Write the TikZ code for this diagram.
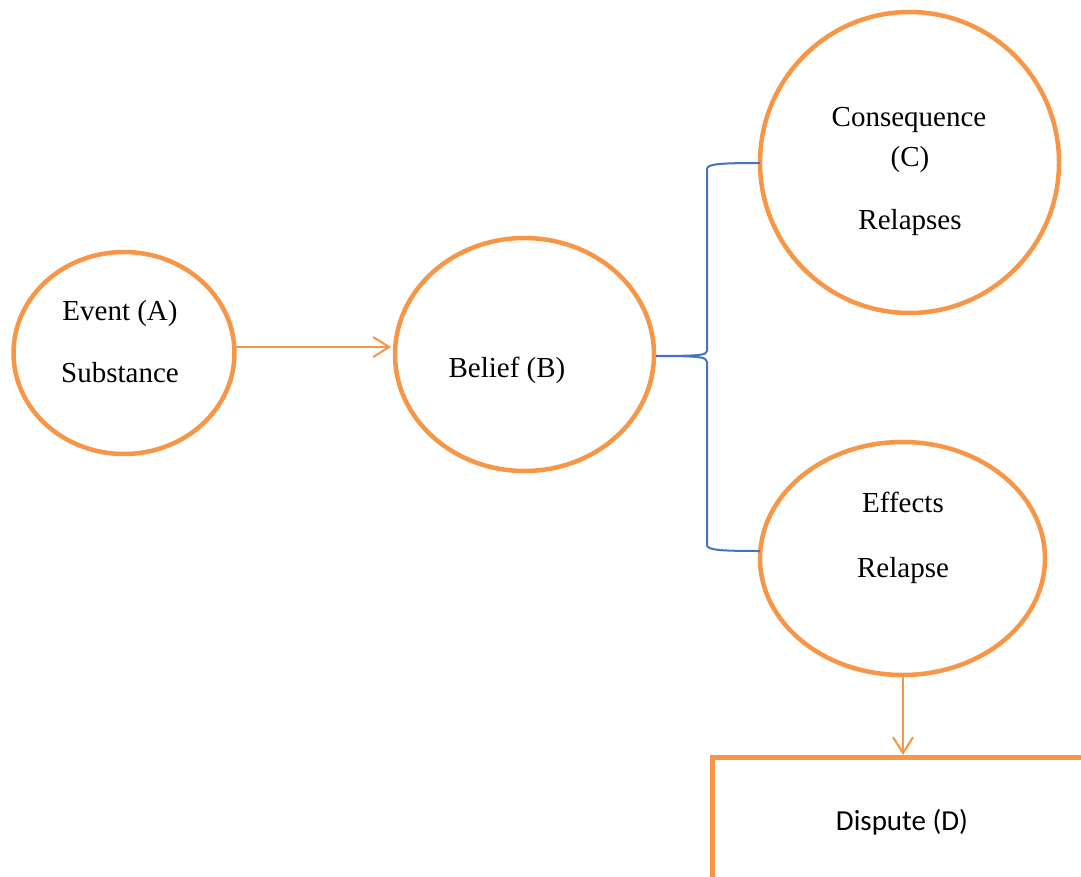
\documentclass[tikz,border=0pt]{standalone}
\usepackage{fontspec}
\setmainfont{Liberation Serif}
\newfontfamily\calibrifont{Carlito}
\usetikzlibrary{shapes.geometric,arrows.meta}
\definecolor{orng}{RGB}{247,150,70}
\definecolor{bblue}{RGB}{68,114,196}
\tikzset{
  circ/.style={ellipse, draw=orng, line width=4.5pt, inner sep=0pt, outer sep=0pt},
  lbl/.style={anchor=base, inner sep=0pt, font=\fontsize{29}{34}\selectfont},
  arr/.style={draw=orng, line width=2pt, -{Straight Barb[length=16pt,width=20pt]}},
  brace/.style={draw=bblue, line width=2pt},
}
\begin{document}
\begin{tikzpicture}[x=1pt,y=-1pt]
\useasboundingbox (0,0) rectangle (1081,877);
\begin{scope}
\clip (0,0) rectangle (1081,877);
% circles
\node[circ, minimum width=221pt, minimum height=202pt] (ev) at (124,353) {};
\node[circ, minimum width=259pt, minimum height=233pt] (be) at (524.5,354.5) {};
\node[circ, minimum width=299pt, minimum height=301pt] (co) at (909.5,162.5) {};
\node[circ, minimum width=285pt, minimum height=233pt] (ef) at (902.5,558.5) {};
% dispute box
\node[draw=orng, line width=5pt, rectangle, inner sep=0pt, outer sep=0pt, anchor=north west,
      minimum width=420pt, minimum height=160pt] (db) at (712.5,757.5) {};
% labels
\node[lbl] (t1) at (120,320) {Event (A)};
\node[lbl] (t2) at (120,382) {Substance};
\node[lbl] (t3) at (507,377) {Belief (B)};
\node[lbl] (t4) at (909,127) {Consequence};
\node[lbl] (t5) at (910,167) {(C)};
\node[lbl] (t6) at (910,230) {Relapses};
\node[lbl] (t7) at (903,512) {Effects};
\node[lbl] (t8) at (903,577) {Relapse};
\node[lbl, font=\calibrifont\fontsize{29}{34}\selectfont] (t9) at (902,830) {Dispute (D)};
% arrows
\coordinate (a1) at (236,347);
\coordinate (a2) at (391,347);
\draw[arr] (a1) -- (a2);
\coordinate (b1) at (903,677);
\coordinate (b2) at (903,755);
\draw[arr] (b1) -- (b2);
% brace
\coordinate (bt) at (656,356);
\coordinate (ct) at (760,163);
\coordinate (et) at (760,551);
\draw[brace] (bt) .. controls (700,356) and (707,355) .. (707,351) -- (707,169)
  .. controls (707,164) and (720,163) .. (ct);
\draw[brace] (bt) .. controls (700,356) and (707,357) .. (707,362) -- (707,545)
  .. controls (707,550) and (720,551) .. (et);
\end{scope}
\end{tikzpicture}
\end{document}
